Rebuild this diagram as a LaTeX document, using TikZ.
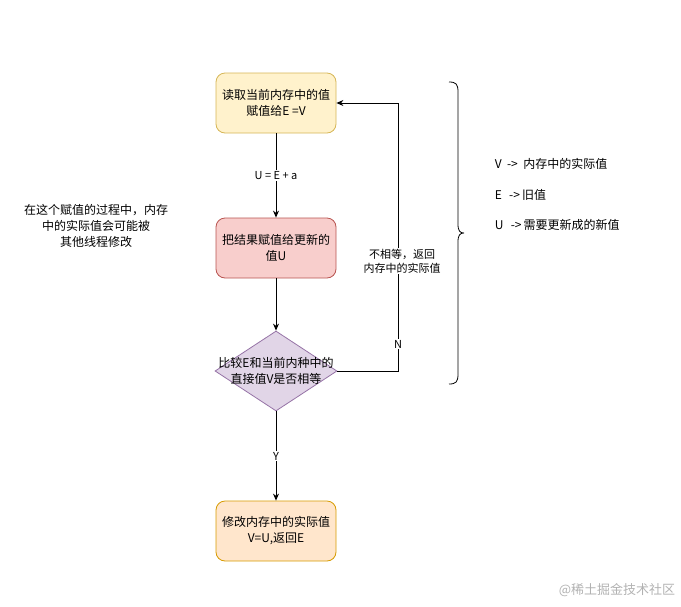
\documentclass[tikz,border=0pt]{standalone}
\usepackage{fontspec}
\setmainfont{Noto Sans CJK SC}
\usetikzlibrary{shapes.geometric,arrows.meta}

\definecolor{yellowfill}{HTML}{FFF2CC}
\definecolor{yellowline}{HTML}{D6B656}
\definecolor{redfill}{HTML}{F8CECC}
\definecolor{redline}{HTML}{B85450}
\definecolor{purplefill}{HTML}{E1D5E7}
\definecolor{purpleline}{HTML}{9673A6}
\definecolor{orangefill}{HTML}{FFE6CC}
\definecolor{orangeline}{HTML}{D79B00}

\begin{document}
\begin{tikzpicture}[x=1pt, y=-1pt, line width=0.9pt,
                    box node/.style={rectangle, rounded corners=9pt, minimum width=120pt,
                      minimum height=60pt, align=center, line width=0.8pt,
                      font=\fontsize{12}{16}\selectfont},
                    edge label/.style={fill=white, inner sep=1pt, font=\fontsize{11}{14}\selectfont},
                    note/.style={align=center, font=\fontsize{12}{16}\selectfont},
                    flow/.style={-{Stealth[length=7pt,width=6pt]}}]
  \useasboundingbox (0,0) rectangle (681,606);

  \node[box node, fill=yellowfill, draw=yellowline] (read) at (276,103) {读取当前内存中的值\\赋值给E =V};
  \node[box node, fill=redfill, draw=redline] (assign) at (276,248) {把结果赋值给更新的\\值U};
  \node[diamond, fill=purplefill, draw=purpleline, line width=0.8pt, inner sep=0pt,
        minimum width=122pt, minimum height=80pt] (compare) at (276,371) {};
  \node[note] (comparetext) at (compare.center) {比较E和当前内种中的\\直接值V是否相等};
  \node[box node, fill=orangefill, draw=orangeline] (update) at (276,531) {修改内存中的实际值\\V=U,返回E};

  \coordinate (upper) at (398,103);
  \coordinate (lower) at (398,371);

  \draw[flow] (read) -- node[edge label] {U = E + a} (assign);
  \draw[flow] (assign) -- (compare);
  \draw[flow] (compare) -- node[edge label, pos=0.5] {Y} (update);
  \draw[flow] (compare.east) -- (lower) -- node[edge label, pos=0.1] {N}
      node[edge label, pos=0.41, xshift=4pt, align=center] {不相等，返回\\内存中的实际值} (upper) -- (read.east);

  % brace and legend
  \coordinate (bracetop) at (449,82);
  \coordinate (bracetip) at (464,233);
  \coordinate (bracebot) at (449,384);
  \draw[line width=0.8pt] (bracetop) .. controls (456,82) and (458,84) .. (458,92)
      -- (458,224) .. controls (458,231) and (460,233) .. (bracetip)
      (bracetip) .. controls (460,233) and (458,235) .. (458,242)
      -- (458,374) .. controls (458,382) and (456,384) .. (bracebot);

  \node[note, anchor=west] (legendv) at (491,164) {V\ \ ->\ \ 内存中的实际值};
  \node[note, anchor=west] (legende) at (491,195) {E\ \ \,->\,旧值};
  \node[note, anchor=west] (legendu) at (491,225) {U\ \ \,->\,需要更新成的新值};

  \node[note] (sidenote) at (96,226) {在这个赋值的过程中，内存\\中的实际值会可能被\\其他线程修改};

  \node[font=\fontsize{13}{16}\selectfont, text=black!30, anchor=east] (mark) at (679,590) {@稀土掘金技术社区};
\end{tikzpicture}
\end{document}
